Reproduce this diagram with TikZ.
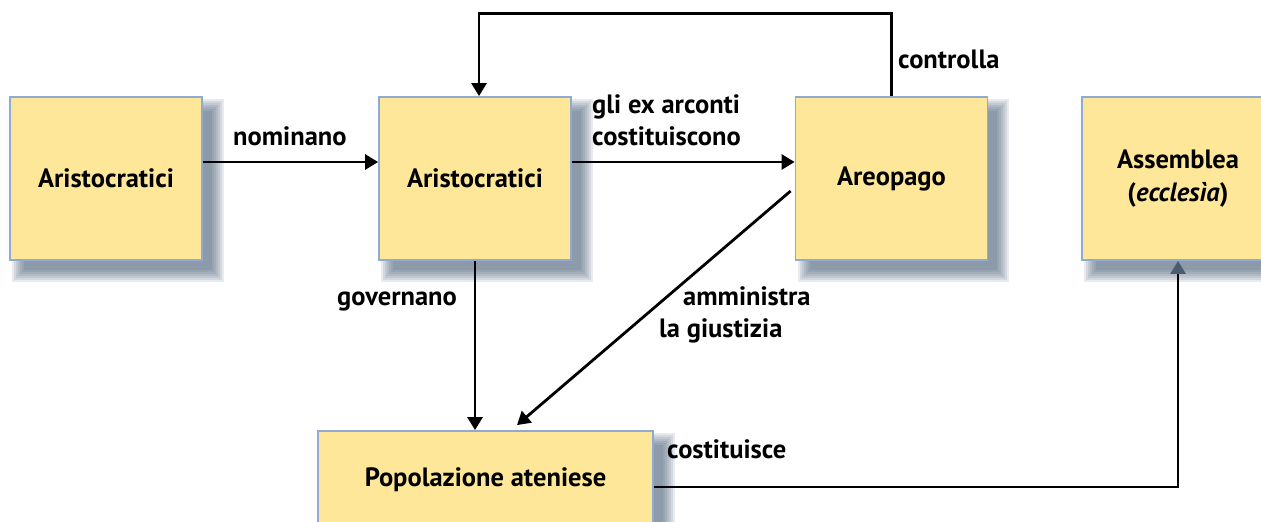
\documentclass[tikz,border=0pt]{standalone}
\usepackage{fontspec}
\setmainfont{PT Sans}
\usetikzlibrary{arrows.meta,backgrounds}
\definecolor{boxfill}{HTML}{FEE799}
\definecolor{boxline}{HTML}{8FAAD3}
\definecolor{shadowcol}{HTML}{3D5570}
\definecolor{tipgray}{HTML}{4A5D70}
\newcommand{\boxshadow}[1]{\foreach \sr in {9,7,5,3,1,-1,-3}{\fill[shadowcol,opacity=0.12] ([shift={(12-\sr,12-\sr)}]#1.north west) rectangle ([shift={(12+\sr,12+\sr)}]#1.south east);}}
\begin{document}
\begin{tikzpicture}[x=1pt,y=-1pt,
  box/.style={rectangle, draw=boxline, line width=1.8pt, fill=boxfill,
    minimum width=192pt, minimum height=163pt, inner sep=0pt, align=center,
    font=\bfseries\fontsize{26.5}{33}\selectfont},
  lbl/.style={inner sep=0pt, font=\bfseries\fontsize{26.5}{32}\selectfont},
  arr/.style={line width=2.8pt, -{Triangle[length=13pt,width=15pt]}}]
\useasboundingbox (0,0) rectangle (1261,522);
\clip (0,0) rectangle (1261,522);
\node[box] (a1) at (106,178.5) {Aristocratici};
\node[box] (a2) at (475,178.5) {Aristocratici};
\node[box] (ar) at (891.5,178.5) {Areopago};
\node[box] (as) at (1178,178.5) {Assemblea\\(\textit{eccles\`{\i}a})};
\node[box, minimum width=335pt, minimum height=98pt] (pop) at (485.5,480) {Popolazione ateniese};
\begin{scope}[on background layer]
\boxshadow{a1}\boxshadow{a2}\boxshadow{ar}\boxshadow{as}\boxshadow{pop}
\end{scope}
\draw[arr] ([yshift=16.5pt]a1.east) -- ([yshift=16.5pt]a2.west);
\draw[arr] ([yshift=16.5pt]a2.east) -- ([yshift=16.5pt]ar.west);
\draw[arr] (ar.north) -- ++(0,-83) -| ([xshift=4pt]a2.north);
\draw[arr] (a2.south) -- (a2.south |- pop.north);
\draw[arr] ([xshift=-4pt,yshift=-12.5pt]ar.west) -- ([xshift=31.5pt,yshift=5pt]pop.north);
\draw[line width=2.8pt, -{Triangle[length=13pt,width=15pt,color=tipgray]}] ([yshift=-7pt]pop.east) -| (as.south);
\node[lbl, anchor=base west] (l1) at (233,145) {nominano};
\node[lbl, anchor=base west] (l2a) at (592,113) {gli ex arconti};
\node[lbl, anchor=base west] (l2b) at (592,145) {costituiscono};
\node[lbl, anchor=base west] (l3) at (898,68) {controlla};
\node[lbl, anchor=base east] (l4) at (457,305) {governano};
\node[lbl, anchor=base west] (l5a) at (683,305) {amministra};
\node[lbl, anchor=base west] (l5b) at (659,337) {la giustizia};
\node[lbl, anchor=base west] (l6) at (667,458) {costituisce};
\end{tikzpicture}
\end{document}
